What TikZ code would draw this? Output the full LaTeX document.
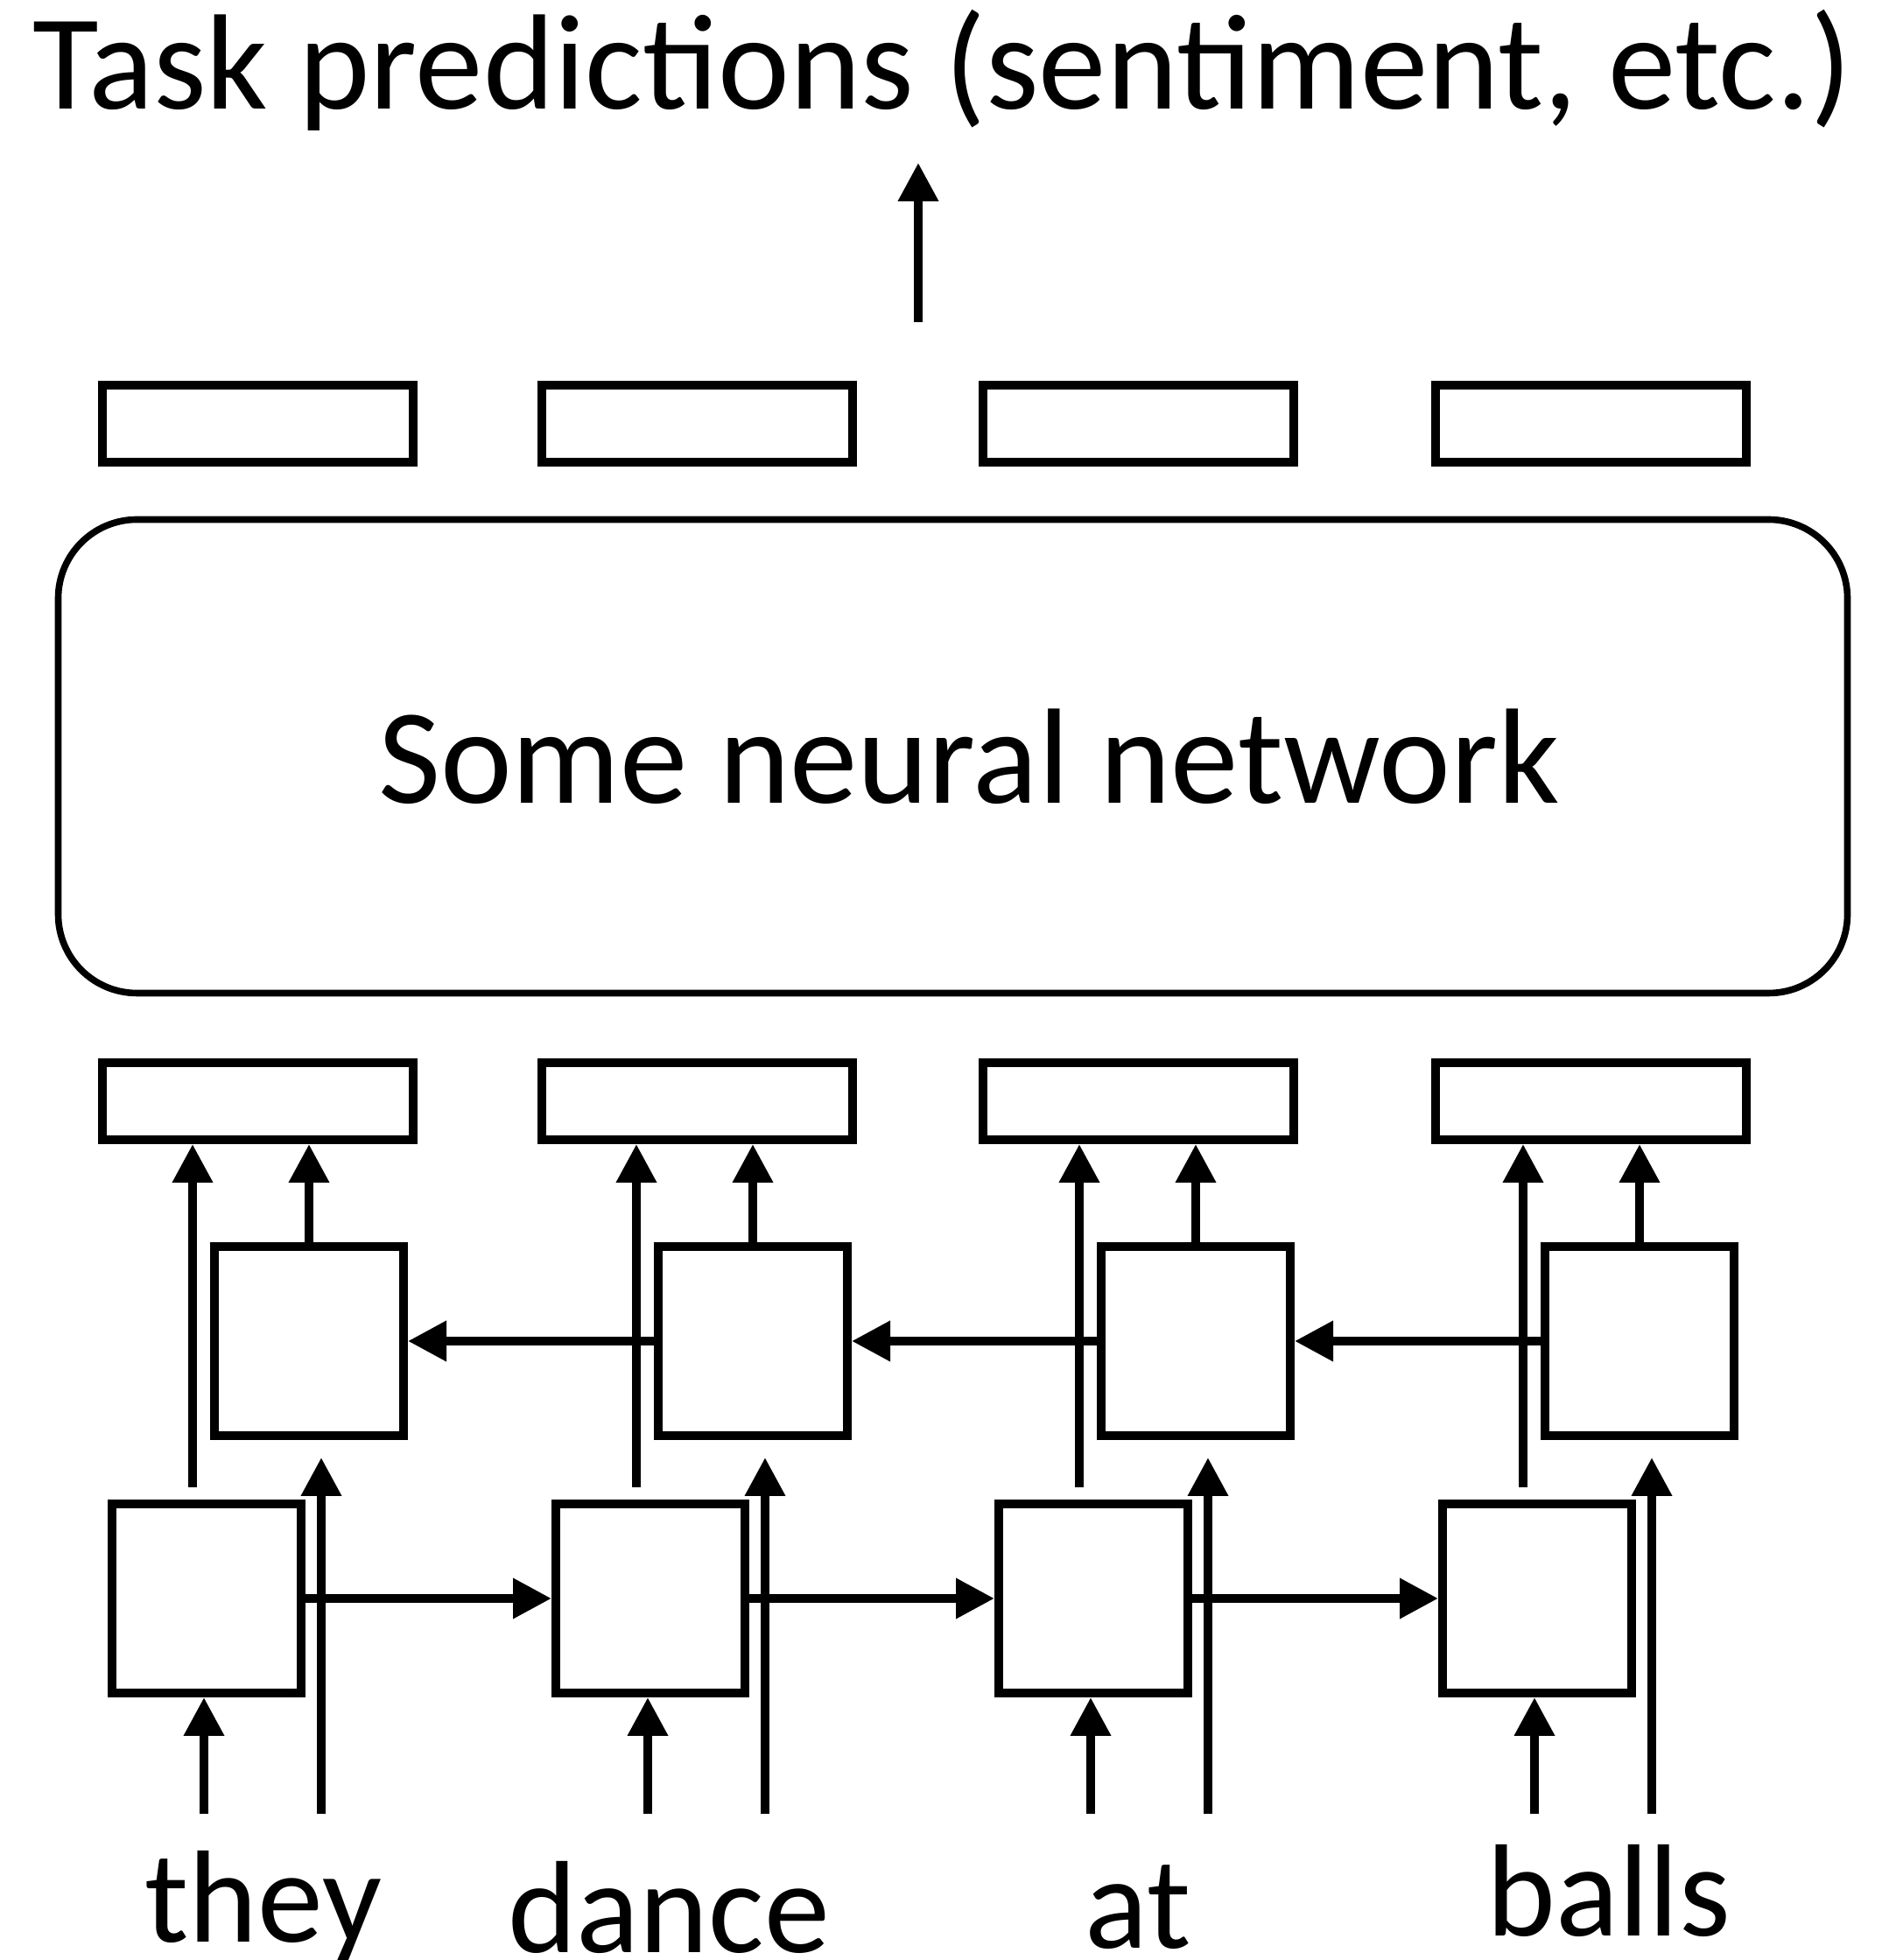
\documentclass[tikz,border=0pt]{standalone}
\usepackage{fontspec}
\setmainfont{Carlito}
\usetikzlibrary{arrows.meta}

\begin{document}
\begin{tikzpicture}[>={Triangle[length=22bp,width=22bp]},line width=5bp,
  vec/.style={draw,rectangle,inner sep=0pt,minimum width=177.5bp,minimum height=44bp},
  cell/.style={draw,rectangle,inner sep=0pt,minimum width=108bp,minimum height=108bp},
  word/.style={anchor=base,inner sep=0pt,font=\fontsize{75bp}{90bp}\selectfont}]
\useasboundingbox (0bp,0bp) rectangle (1075bp,1119.5bp);
%%
\node (node_title) at (538.25bp,1057bp) [word,font=\fontsize{77.5bp}{90bp}\selectfont] {Task predictions (sentiment, etc.)};
  \coordinate (node_up0) at (524.5bp,935.5bp);
  \coordinate (node_up1) at (524.5bp,1026.5bp);
  \node (node_top1) at (147.25bp,877.25bp) [vec] {};
  \node (node_top2) at (398.25bp,877.25bp) [vec] {};
  \node (node_top3) at (650.25bp,877.25bp) [vec] {};
  \node (node_top4) at (908.75bp,877.25bp) [vec] {};
  \node (node_net) at (544.25bp,687.5bp) [draw,rounded corners=45bp,line width=3.8bp,minimum width=1022bp,minimum height=270.5bp,font=\fontsize{77.5bp}{90bp}\selectfont] {\hspace*{18.6bp}Some neural network};
  \node (node_out1) at (147.25bp,490.5bp) [vec] {};
  \node (node_out2) at (398.25bp,490.5bp) [vec] {};
  \node (node_out3) at (650.25bp,490.5bp) [vec] {};
  \node (node_out4) at (908.75bp,490.5bp) [vec] {};
  \node (node_bw1) at (176.5bp,353.5bp) [cell] {};
  \node (node_bw2) at (430bp,353.5bp) [cell] {};
  \node (node_bw3) at (683bp,353.5bp) [cell] {};
  \node (node_bw4) at (936.5bp,353.5bp) [cell] {};
  \node (node_fw1) at (118bp,206.5bp) [cell] {};
  \node (node_fw2) at (371.5bp,206.5bp) [cell] {};
  \node (node_fw3) at (624.5bp,206.5bp) [cell] {};
  \node (node_fw4) at (878bp,206.5bp) [cell] {};
  \coordinate (node_in1) at (116.5bp,83.5bp);
  \coordinate (node_in2) at (370bp,83.5bp);
  \coordinate (node_in3) at (623bp,83.5bp);
  \coordinate (node_in4) at (876.5bp,83.5bp);
  \coordinate (node_skip1) at (183.5bp,83.5bp);
  \coordinate (node_skip2) at (437bp,83.5bp);
  \coordinate (node_skip3) at (690bp,83.5bp);
  \coordinate (node_skip4) at (943.5bp,83.5bp);
  \node (node_w1) at (150.5bp,10.5bp) [word] {they};
  \node (node_w2) at (382bp,4.5bp) [word] {dance};
  \node (node_w3) at (650bp,7bp) [word] {at};
  \node (node_w4) at (919bp,14bp) [word] {balls};
  \draw [->] (node_up0) -- (node_up1);
  \draw [->] (node_in1) -- (node_in1 |- node_fw1.south);
  \draw [->] (node_in2) -- (node_in2 |- node_fw2.south);
  \draw [->] (node_in3) -- (node_in3 |- node_fw3.south);
  \draw [->] (node_in4) -- (node_in4 |- node_fw4.south);
  \draw [->] (node_skip1) -- ([yshift=-10bp]node_skip1 |- node_bw1.south);
  \draw [->] (node_skip2) -- ([yshift=-10bp]node_skip2 |- node_bw2.south);
  \draw [->] (node_skip3) -- ([yshift=-10bp]node_skip3 |- node_bw3.south);
  \draw [->] (node_skip4) -- ([yshift=-10bp]node_skip4 |- node_bw4.south);
  \draw [->] (node_fw1.east) -- (node_fw2.west);
  \draw [->] (node_fw2.east) -- (node_fw3.west);
  \draw [->] (node_fw3.east) -- (node_fw4.west);
  \draw [->] ([xshift=4bp]node_bw4.west) -- (node_bw3.east);
  \draw [->] ([xshift=4bp]node_bw3.west) -- (node_bw2.east);
  \draw [->] ([xshift=4bp]node_bw2.west) -- (node_bw1.east);
  \draw [->] ([xshift=-8bp,yshift=7bp]node_fw1.north) -- ([xshift=-8bp]node_fw1.north |- node_out1.south);
  \draw [->] ([xshift=-8bp,yshift=7bp]node_fw2.north) -- ([xshift=-8bp]node_fw2.north |- node_out2.south);
  \draw [->] ([xshift=-8bp,yshift=7bp]node_fw3.north) -- ([xshift=-8bp]node_fw3.north |- node_out3.south);
  \draw [->] ([xshift=-8bp,yshift=7bp]node_fw4.north) -- ([xshift=-8bp]node_fw4.north |- node_out4.south);
  \draw [->] (node_bw1.north) -- (node_bw1.north |- node_out1.south);
  \draw [->] (node_bw2.north) -- (node_bw2.north |- node_out2.south);
  \draw [->] (node_bw3.north) -- (node_bw3.north |- node_out3.south);
  \draw [->] (node_bw4.north) -- (node_bw4.north |- node_out4.south);
%
\end{tikzpicture}
\end{document}
